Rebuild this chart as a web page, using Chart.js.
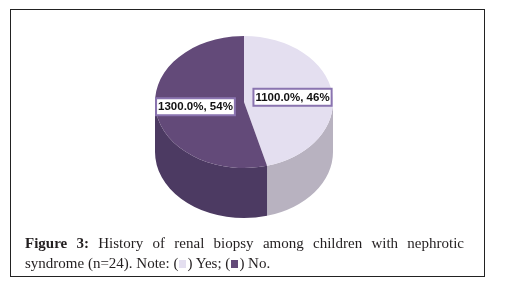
<!DOCTYPE html>
<html><head><meta charset="utf-8">
<script src="https://cdn.jsdelivr.net/npm/chart.js@4"></script>
<style>
html,body{margin:0;padding:0;background:#fff;width:505px;height:282px;overflow:hidden}
#frame{position:absolute;left:10px;top:9px;width:473px;height:266px;border:1px solid #222;}
#c{position:absolute;left:0;top:0}
.cap{position:absolute;left:25px;width:439px;font-family:"Liberation Serif",serif;font-size:15px;color:#231f20;white-space:nowrap;line-height:20px}
.sq{display:inline-block;width:7px;height:8px;vertical-align:0px;margin:0 1px}
</style></head><body>
<div id="frame"></div>
<canvas id="c" width="505" height="282"></canvas>
<div class="cap" style="top:233px;text-align:justify;text-align-last:justify;white-space:normal"><b>Figure 3:</b> History of renal biopsy among children with nephrotic</div>
<div class="cap" style="top:253px">syndrome (n=24). Note: (<span class="sq" style="background:#e4dff0"></span>) Yes; (<span class="sq" style="background:#634a79"></span>) No.</div>
<script>
const categories = ['Yes', 'No'];
const values = [11, 13];
const topColors = ['#e4dff0', '#634a79'];
const sideColors = ['#b8b2c0', '#4c3a62'];
const labelBorder = '#8a74b0';

const tilt = 66 / 89, depth = 50;
const total = values.reduce((a, b) => a + b, 0);

const pie3d = {
  id: 'pie3d',
  beforeDatasetsDraw(chart) {
    const ctx = chart.ctx;
    const arcs = chart.getDatasetMeta(0).data;
    const cx = arcs[0].x, cy = arcs[0].y, rx = arcs[0].outerRadius, ry = rx * tilt;
    arcs.forEach((a, i) => {
      const s = Math.max(a.startAngle, 0), e = Math.min(a.endAngle, Math.PI);
      if (e <= s) return;
      ctx.beginPath();
      ctx.ellipse(cx, cy, rx, ry, 0, s, e, false);
      ctx.ellipse(cx, cy + depth, rx, ry, 0, e, s, true);
      ctx.closePath();
      ctx.fillStyle = sideColors[i];
      ctx.fill();
    });
    ctx.save();
    ctx.translate(cx, cy);
    ctx.scale(1, tilt);
    ctx.translate(-cx, -cy);
  },
  afterDatasetsDraw(chart) {
    const ctx = chart.ctx;
    ctx.restore();
    const arcs = chart.getDatasetMeta(0).data;
    ctx.save();
    ctx.font = 'bold 11.5px "Liberation Sans", Arial, sans-serif';
    ctx.textAlign = 'center';
    ctx.textBaseline = 'middle';
    arcs.forEach((a, i) => {
      const rx = a.outerRadius, ry = rx * tilt;
      const mid = (a.startAngle + a.endAngle) / 2;
      const f = 0.55;
      const x = a.x + f * rx * Math.cos(mid);
      const y = a.y + f * ry * Math.sin(mid);
      const v = values[i];
      const txt = (v * 100).toFixed(1) + '%, ' + Math.round(v / total * 100) + '%';
      const w = ctx.measureText(txt).width;
      ctx.fillStyle = '#fff';
      ctx.fillRect(x - w / 2 - 2, y - 8.5, w + 4, 17);
      ctx.strokeStyle = labelBorder;
      ctx.lineWidth = 2;
      ctx.strokeRect(x - w / 2 - 2, y - 8.5, w + 4, 17);
      ctx.fillStyle = '#111';
      ctx.fillText(txt, x, y + 0.5);
    });
    ctx.restore();
  }
};

new Chart(document.getElementById('c'), {
  type: 'pie',
  data: {
    labels: categories,
    datasets: [{
      data: values,
      backgroundColor: topColors,
      borderWidth: 0,
      hoverOffset: 0
    }]
  },
  options: {
    responsive: false,
    animation: false,
    events: [],
    layout: { padding: { left: 155, right: 172, top: 13, bottom: 91 } },
    plugins: { legend: { display: false }, tooltip: { enabled: false } }
  },
  plugins: [pie3d]
});
</script>
</body></html>
